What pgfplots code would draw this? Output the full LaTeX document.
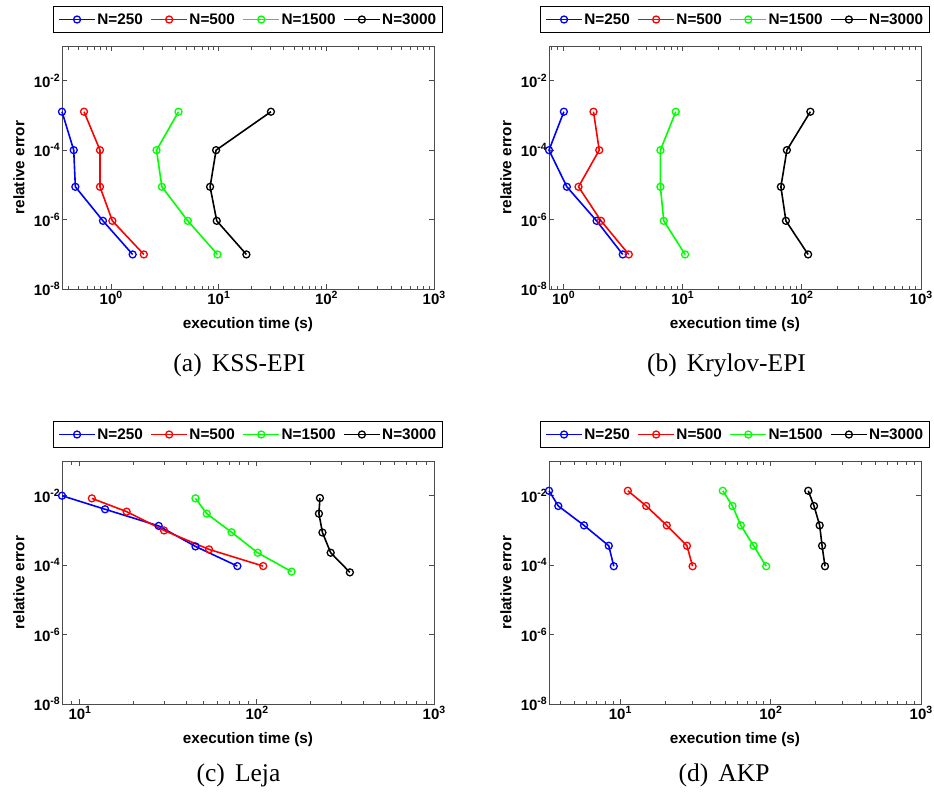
\documentclass[border=0pt]{standalone}
\usepackage{fontspec}
\setmainfont{Liberation Serif}
\setsansfont{Liberation Sans}
\usepackage{pgfplots}
\pgfplotsset{compat=1.18}
\newcommand\tl[1]{10\raisebox{0.42em}{\fontsize{10.5}{12}\selectfont #1}}
\pgfplotsset{
  legend image code/.code={\draw[mark repeat=2,mark phase=2,#1] plot coordinates {(0pt,0pt) (18pt,0pt) (36pt,0pt)};},
}
\pgfplotsset{
  panel/.style={
    scale only axis, width=372pt, height=243pt,
    xmax=1000, ymin=1e-8, ymax=0.1,
    ytick={1e-8,1e-6,1e-4,1e-2}, yticklabels={\tl{-8},\tl{-6},\tl{-4},\tl{-2}},
    yminorticks=false,
    minor xtick={0.4,0.5,0.6,0.7,0.8,0.9,2,3,4,5,6,7,8,9,20,30,40,50,60,70,80,90,200,300,400,500,600,700,800,900},
    axis line style={black!70, line width=0.9pt},
    every tick/.style={black!70, line width=0.8pt},
    major tick length=5pt, minor tick length=3.5pt,
    tick align=inside, tick pos=both,
    tick label style={font=\fontsize{15}{17}\selectfont\sffamily\bfseries, black},
    yticklabel style={inner xsep=2pt},
    xticklabel style={inner ysep=2pt},
    label style={font=\fontsize{15.3}{18}\selectfont\sffamily\bfseries},
    xlabel={execution time (s)}, ylabel={relative error},
    xlabel style={at={(axis description cs:0.5,-0.148)}, anchor=center},
    ylabel style={at={(axis description cs:-0.1156,0.5)}, anchor=center},
    clip=false,
    legend columns=4,
    legend style={at={(0.5,1)}, anchor=south, yshift=13pt, draw=black, line width=0.8pt,
      fill=white, font=\fontsize{15.3}{18}\selectfont\sffamily\bfseries,
      inner xsep=5pt, inner ysep=3pt,
      nodes={inner xsep=1.5pt, inner ysep=4pt},
      /tikz/every even column/.append style={column sep=6pt}},
    every axis plot/.append style={line width=1.6pt, mark=o, mark size=3.5pt, mark options={solid, line width=1.3pt}},
  }
}
\begin{document}
\begin{tikzpicture}
\useasboundingbox (0pt,0pt) rectangle (934pt,-795pt);
% (a) KSS-EPI
\begin{loglogaxis}[panel, at={(62pt,-289pt)}, anchor=south west, xmin=0.351,
  xtick={1,10,100,1000}, xticklabels={\tl{0},\tl{1},\tl{2},\tl{3}}]
\addplot[blue] coordinates {(0.351,1.28e-3) (0.451,1e-4) (0.467,8.8e-6) (0.843,9.2e-7) (1.59,9.9e-8)};
\addplot[red] coordinates {(0.562,1.28e-3) (0.791,1e-4) (0.791,8.8e-6) (1.03,9.2e-7) (2.02,9.9e-8)};
\addplot[green] coordinates {(4.24,1.28e-3) (2.65,1e-4) (2.97,8.8e-6) (5.17,9.2e-7) (9.75,9.9e-8)};
\addplot[black] coordinates {(30.6,1.28e-3) (9.47,1e-4) (8.33,8.8e-6) (9.6,9.2e-7) (18.1,9.9e-8)};
\legend{N=250,N=500,N=1500,N=3000}
\end{loglogaxis}
% (b) Krylov-EPI
\begin{loglogaxis}[panel, at={(549pt,-289pt)}, anchor=south west, xmin=0.758,
  xtick={1,10,100,1000}, xticklabels={\tl{0},\tl{1},\tl{2},\tl{3}}]
\addplot[blue] coordinates {(1.01,1.28e-3) (0.758,1e-4) (1.07,8.8e-6) (1.90,9.2e-7) (3.15,9.9e-8)};
\addplot[red] coordinates {(1.79,1.28e-3) (2.0,1e-4) (1.34,8.8e-6) (2.07,9.2e-7) (3.54,9.9e-8)};
\addplot[green] coordinates {(8.77,1.28e-3) (6.52,1e-4) (6.52,8.8e-6) (6.95,9.2e-7) (10.5,9.9e-8)};
\addplot[black] coordinates {(118,1.28e-3) (75,1e-4) (66.8,8.8e-6) (73.6,9.2e-7) (113,9.9e-8)};
\legend{N=250,N=500,N=1500,N=3000}
\end{loglogaxis}
% (c) Leja
\begin{loglogaxis}[panel, at={(62pt,-704pt)}, anchor=south west, xmin=7.94,
  xtick={10,100,1000}, xticklabels={\tl{1},\tl{2},\tl{3}}]
\addplot[blue] coordinates {(7.94,0.01) (13.9,4.07e-3) (27.9,1.35e-3) (45.0,3.47e-4) (77.6,9.4e-5)};
\addplot[red] coordinates {(11.7,8.4e-3) (18.4,3.48e-3) (29.9,1.0e-3) (53.7,2.84e-4) (108.6,9.4e-5)};
\addplot[green] coordinates {(45,8.4e-3) (52.1,3.05e-3) (71.9,8.9e-4) (101,2.28e-4) (157,6.5e-5)};
\addplot[black] coordinates {(227,8.6e-3) (224,3.05e-3) (234.5,8.7e-4) (261,2.28e-4) (335,6.2e-5)};
\legend{N=250,N=500,N=1500,N=3000}
\end{loglogaxis}
% (d) AKP
\begin{loglogaxis}[panel, at={(549pt,-704pt)}, anchor=south west, xmin=3.365,
  xtick={10,100,1000}, xticklabels={\tl{1},\tl{2},\tl{3}}]
\addplot[blue] coordinates {(3.365,0.0139) (3.88,5.06e-3) (5.75,1.4e-3) (8.4,3.62e-4) (9.07,9.3e-5)};
\addplot[red] coordinates {(11.25,0.0139) (14.9,5.06e-3) (20.4,1.4e-3) (27.8,3.62e-4) (30.3,9.3e-5)};
\addplot[green] coordinates {(48.1,0.0139) (55.8,5.06e-3) (63.4,1.4e-3) (77.1,3.62e-4) (93.5,9.3e-5)};
\addplot[black] coordinates {(178,0.0139) (194.5,5.06e-3) (212,1.4e-3) (220,3.62e-4) (230,9.3e-5)};
\legend{N=250,N=500,N=1500,N=3000}
\end{loglogaxis}
\node[font=\fontsize{25.5}{30}\selectfont] at (239.5pt,-365pt) {(a)\hspace{0.4em}KSS-EPI};
\node[font=\fontsize{25.5}{30}\selectfont] at (726.5pt,-365pt) {(b)\hspace{0.4em}Krylov-EPI};
\node[font=\fontsize{25.5}{30}\selectfont] at (238.5pt,-775pt) {(c)\hspace{0.4em}Leja};
\node[font=\fontsize{25.5}{30}\selectfont] at (724pt,-775pt) {(d)\hspace{0.4em}AKP};
\end{tikzpicture}
\end{document}
